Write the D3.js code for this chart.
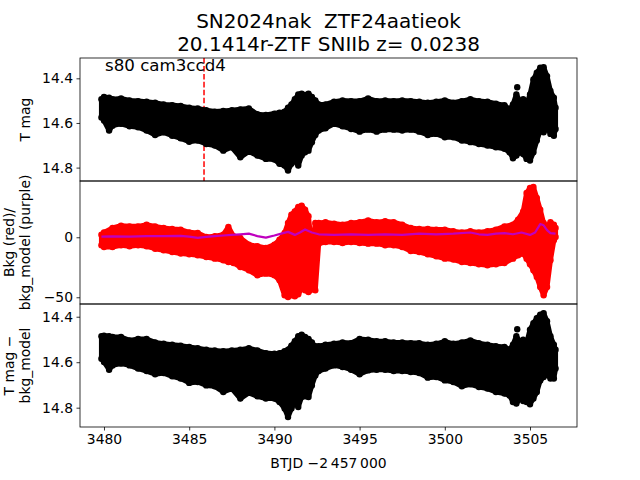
<!DOCTYPE html>
<html><head><meta charset="utf-8">
<script src="https://cdn.jsdelivr.net/npm/d3@7"></script>
<style>body{margin:0;background:#fff}svg{display:block}text{font-family:"DejaVu Sans",sans-serif;white-space:pre}</style>
</head><body><svg id="c" width="640" height="480"></svg>
<script>
// ---------- DATA ----------
const titleLines = ["SN2024nak  ZTF24aatieok", "20.1414r-ZTF SNIIb z= 0.0238"];
const sectorLabel = "s80 cam3ccd4";
const markerTime = 3485.87;
const xTicks = [3480, 3485, 3490, 3495, 3500, 3505];
const magTicks = [14.4, 14.6, 14.8];
const bkgTicks = [0, -50];

// Panel 1 (T mag) and panel 3 (T mag - bkg_model): time grid + envelope of the dense points
const tMag = [3479.85,3480.0,3480.3,3480.5,3481,3481.5,3482,3482.5,3483,3483.5,3484,3484.5,3485,3485.5,3486,3486.5,3487,3487.5,3488,3488.5,3489,3489.5,3490,3490.3,3490.6,3490.8,3491.0,3491.2,3491.4,3491.6,3491.8,3492.0,3492.2,3492.4,3492.6,3493,3493.5,3494,3494.5,3495,3495.5,3496,3496.5,3497,3497.5,3498,3498.5,3499,3499.5,3500,3500.5,3501,3501.5,3502,3502.5,3503,3503.5,3503.8,3504.0,3504.2,3504.4,3504.6,3504.8,3505.0,3505.2,3505.4,3505.6,3505.8,3506.0,3506.2,3506.4,3506.5];
const magBright = [14.494,14.484,14.487,14.494,14.490,14.499,14.502,14.505,14.509,14.517,
  14.520,14.524,14.532,14.535,14.543,14.549,14.546,14.543,14.539,14.535,
  14.561,14.564,14.558,14.554,14.549,14.532,14.517,14.494,14.472,14.469,
  14.475,14.469,14.484,14.499,14.517,14.517,14.505,14.499,14.502,14.502,
  14.490,14.502,14.499,14.502,14.499,14.502,14.505,14.509,14.505,14.499,
  14.509,14.502,14.494,14.502,14.505,14.514,14.520,14.539,14.517,14.472,
  14.502,14.494,14.517,14.472,14.405,14.375,14.353,14.350,14.390,14.457,
  14.487,14.532];
const magFaint = [14.575,14.589,14.634,14.612,14.604,14.615,14.619,14.634,14.654,14.642,
  14.657,14.669,14.684,14.679,14.694,14.701,14.724,14.709,14.754,14.728,
  14.746,14.761,14.764,14.783,14.791,14.813,14.783,14.768,14.791,14.746,
  14.731,14.724,14.686,14.654,14.634,14.624,14.604,14.615,14.627,14.639,
  14.630,14.639,14.630,14.630,14.634,14.630,14.639,14.654,14.649,14.664,
  14.664,14.679,14.686,14.694,14.701,14.709,14.716,14.731,14.758,14.746,
  14.731,14.739,14.761,14.768,14.731,14.679,14.634,14.642,14.619,14.649,
  14.657,14.627];
const corrBright = [14.486,14.483,14.486,14.489,14.489,14.504,14.498,14.498,14.513,14.519,
  14.523,14.527,14.533,14.538,14.545,14.548,14.552,14.548,14.545,14.538,
  14.548,14.560,14.563,14.560,14.552,14.545,14.527,14.508,14.486,14.479,
  14.489,14.498,14.513,14.530,14.530,14.523,14.519,14.513,14.516,14.498,
  14.501,14.508,14.508,14.513,14.513,14.516,14.516,14.523,14.519,14.508,
  14.519,14.513,14.504,14.516,14.523,14.530,14.533,14.545,14.523,14.486,
  14.508,14.501,14.516,14.457,14.428,14.406,14.391,14.384,14.420,14.486,
  14.523,14.545];
const corrFaint = [14.585,14.599,14.633,14.614,14.606,14.614,14.628,14.639,14.653,14.648,
  14.662,14.672,14.691,14.687,14.702,14.706,14.731,14.716,14.760,14.735,
  14.750,14.760,14.760,14.775,14.804,14.841,14.804,14.779,14.797,14.753,
  14.750,14.753,14.702,14.658,14.639,14.628,14.614,14.621,14.633,14.653,
  14.636,14.633,14.633,14.639,14.639,14.643,14.648,14.668,14.665,14.680,
  14.687,14.706,14.697,14.709,14.716,14.731,14.738,14.746,14.775,14.782,
  14.760,14.771,14.775,14.785,14.760,14.731,14.680,14.665,14.653,14.672,
  14.672,14.628];
const magOutT = [3504.25];
const magOutV = [14.440];
const corrOutV = [14.455];

// Panel 2: background (red) envelope
const tBkg = [3479.85,3480.0,3480.5,3481,3481.5,3482,3482.5,3483,3483.5,3484,3484.5,3485,3485.5,3486,3486.5,3487,3487.3,3487.6,3488,3488.5,3489,3489.5,3490,3490.3,3490.6,3490.8,3491.0,3491.2,3491.4,3491.6,3491.8,3492.0,3492.1,3492.3,3492.4,3492.6,3493,3493.5,3494,3494.5,3495,3495.5,3496,3496.5,3497,3497.5,3498,3498.5,3499,3499.5,3500,3500.5,3501,3501.5,3502,3502.5,3503,3503.5,3504.0,3504.3,3504.6,3504.8,3505.0,3505.2,3505.4,3505.6,3505.8,3506.0,3506.2,3506.4,3506.5];
const bkgHigh = [2.2,4.1,7.75,9.7,9.1,9.1,10.5,9.1,7.75,6.9,
  6.4,4.1,3.6,0.25,0.8,2.2,8.6,0.8,
  -0.6,-6.1,-7.5,-8.9,-6.1,-2.0,3.6,11.9,
  18.9,21.6,25.25,26.4,23.0,17.5,3.6,-0.6,11.9,11.9,
  12.5,11.4,10.5,11.9,12.5,14.1,12.5,13.3,12.5,10.5,7.75,6.9,6.9,6.4,6.4,5.0,4.1,5.0,4.1,5.0,6.4,9.1,
  10.5,14.7,21.6,36.9,41.1,41.9,32.75,23.0,11.9,9.1,12.5,10.5,7.75];
const bkgLow = [-6.7,-8.1,-8.1,-6.7,-7.5,-6.7,-7.5,-9.5,-10.9,-12.25,
  -13.6,-14.2,-15.0,-16.4,-17.8,-19.2,-20.6,-21.4,
  -24.75,-27.5,-31.7,-30.3,-31.7,-35.9,-48.4,-49.75,
  -48.4,-49.2,-47.5,-42.8,-44.2,-45.6,-44.2,-33.1,-44.2,-5.3,
  -3.9,-3.9,-4.75,-3.9,-4.75,-5.3,-5.3,-6.7,-6.7,-8.1,-11.4,-12.25,-14.2,-15.9,-17.8,-18.6,-20.6,-21.4,-22.5,-23.4,-22.5,-21.4,
  -17.8,-15.0,-13.6,-17.8,-22.5,-27.5,-33.1,-41.4,-48.4,-41.4,-19.2,-2.5,0.25];
const bkgOutT = [3490.82, 3491.4];
const bkgOutV = [-2.3, -18.4];

// Panel 2: background model (purple)
const tModel = [3479.85,3480.5,3481.5,3482.5,3483.5,3484.5,3485.0,3485.5,3486.0,3486.5,3487.0,3487.5,3488.0,3488.5,3489.0,3489.5,3490.0,3490.5,3490.8,3491.2,3491.5,3491.8,3492.2,3492.6,3493.5,3494.5,3495.5,3496.5,3497.5,3498.5,3499.5,3500.5,3501.5,3502.0,3502.5,3503.0,3503.5,3504.0,3504.5,3505.0,3505.3,3505.6,3505.8,3506.0,3506.2,3506.5];
const bkgModel = [0.5,0.8,0.6,0.9,1.0,1.2,0.5,-0.5,0.3,1.0,1.5,2.0,2.5,3.0,1.0,-0.3,1.5,3.5,4.5,2.0,4.0,6.5,4.0,2.5,2.0,2.5,2.0,2.5,2.0,3.0,2.5,3.0,4.0,2.5,2.0,3.0,3.5,2.5,4.0,2.0,4.0,11.0,10.0,6.0,3.5,3.0];

// ---------- DRAW ----------
const svg = d3.select("#c");
const L = 80, R = 577;
const panels = [{top:58,bot:181},{top:181,bot:304},{top:304,bot:427}];
const x = d3.scaleLinear().domain([3478.592, 3507.758]).range([L, R]);
const y1 = d3.scaleLinear().domain([14.309, 14.86]).range([58, 181]);
const y2 = d3.scaleLinear().domain([46.9, -55.6]).range([181, 304]);
const y3 = d3.scaleLinear().domain([14.344, 14.885]).range([304, 427]);
const FONT = "DejaVu Sans";

const defs = svg.append("defs");
panels.forEach((p,i)=>{
  defs.append("clipPath").attr("id","clip"+i).append("rect")
    .attr("x",L).attr("y",p.top).attr("width",R-L).attr("height",p.bot-p.top);
});

function envelope(g, t, hi, lo, ys, color, outT, outV){
  const rows = t.map((d,i)=>({t:d,hi:hi[i],lo:lo[i]}));
  const area = d3.area().x(d=>x(d.t)).y0(d=>ys(d.lo)).y1(d=>ys(d.hi));
  g.append("path").datum(rows).attr("d",area)
    .attr("fill",color).attr("stroke",color).attr("stroke-width",5).attr("stroke-linejoin","round");
  const pts = rows.flatMap(d=>[{t:d.t,v:d.hi},{t:d.t,v:d.lo}]);
  (outT||[]).forEach((d,i)=>pts.push({t:d,v:outV[i]}));
  g.selectAll(null).data(pts).enter().append("circle")
    .attr("cx",d=>x(d.t)).attr("cy",d=>ys(d.v)).attr("r",3.2).attr("fill",color);
}

// dashed marker line in panel 1 (drawn beneath the points)
svg.append("line").attr("x1",x(markerTime)).attr("x2",x(markerTime))
  .attr("y1",58).attr("y2",181).attr("stroke","#ff0000").attr("stroke-width",1.5)
  .attr("stroke-dasharray","5.55,2.4");

const g1 = svg.append("g").attr("clip-path","url(#clip0)");
envelope(g1, tMag, magBright, magFaint, y1, "#000", magOutT, magOutV);
const g2 = svg.append("g").attr("clip-path","url(#clip1)");
envelope(g2, tBkg, bkgHigh, bkgLow, y2, "#ff0000", bkgOutT, bkgOutV);
g2.append("path").datum(tModel.map((d,i)=>({t:d,v:bkgModel[i]})))
  .attr("d", d3.line().x(d=>x(d.t)).y(d=>y2(d.v)))
  .attr("fill","none").attr("stroke","#bf00bf").attr("stroke-width",2.2).attr("stroke-linejoin","round");
const g3 = svg.append("g").attr("clip-path","url(#clip2)");
envelope(g3, tMag, corrBright, corrFaint, y3, "#000", magOutT, corrOutV);

// frames
panels.forEach(p=>{
  svg.append("rect").attr("x",L).attr("y",p.top).attr("width",R-L).attr("height",p.bot-p.top)
    .attr("fill","none").attr("stroke","#000").attr("stroke-width",0.8);
});

function styleAxis(g){
  g.select(".domain").remove();
  g.selectAll(".tick line").attr("stroke","#000").attr("stroke-width",0.8);
  g.selectAll(".tick text").attr("fill","#000").style("font-family",FONT).style("font-size","13.9px");
}
const fmtMag = d3.format(".1f");
svg.append("g").attr("transform",`translate(${L},0)`)
  .call(d3.axisLeft(y1).tickValues(magTicks).tickFormat(fmtMag).tickSize(3.5).tickPadding(3.5)).call(styleAxis);
svg.append("g").attr("transform",`translate(${L},0)`)
  .call(d3.axisLeft(y2).tickValues(bkgTicks).tickFormat(d3.format("d")).tickSize(3.5).tickPadding(3.5)).call(styleAxis);
svg.append("g").attr("transform",`translate(${L},0)`)
  .call(d3.axisLeft(y3).tickValues(magTicks).tickFormat(fmtMag).tickSize(3.5).tickPadding(3.5)).call(styleAxis);
svg.append("g").attr("transform",`translate(0,427)`)
  .call(d3.axisBottom(x).tickValues(xTicks).tickFormat(d3.format("d")).tickSize(3.5).tickPadding(3.5)).call(styleAxis);

// y labels
function ylabel(lines, cy){
  lines.forEach((s,i)=>{
    const bx = 30 - (lines.length-1-i)*16.5;
    svg.append("text").attr("transform",`translate(${bx},${cy}) rotate(-90)`)
      .attr("text-anchor","middle").style("font-size","13.9px").text(s);
  });
}
ylabel(["T mag"], 119.5);
ylabel(["Bkg (red)/","bkg_model (purple)"], 242.5);
ylabel(["T mag \u2212","bkg_model"], 365.5);

// x label
svg.append("text").attr("x",(L+R)/2).attr("y",468).attr("text-anchor","middle")
  .style("font-size","13.9px").text("BTJD \u22122\u2009457\u2009000");

// title
titleLines.forEach((s,i)=>{
  svg.append("text").attr("x",(L+R)/2).attr("y",27.5+i*23).attr("text-anchor","middle")
    .attr("xml:space","preserve").style("font-size","20px").text(s);
});
// sector label
svg.append("text").attr("x",105).attr("y",70.5).style("font-size","16.67px").text(sectorLabel);
</script></body></html>
